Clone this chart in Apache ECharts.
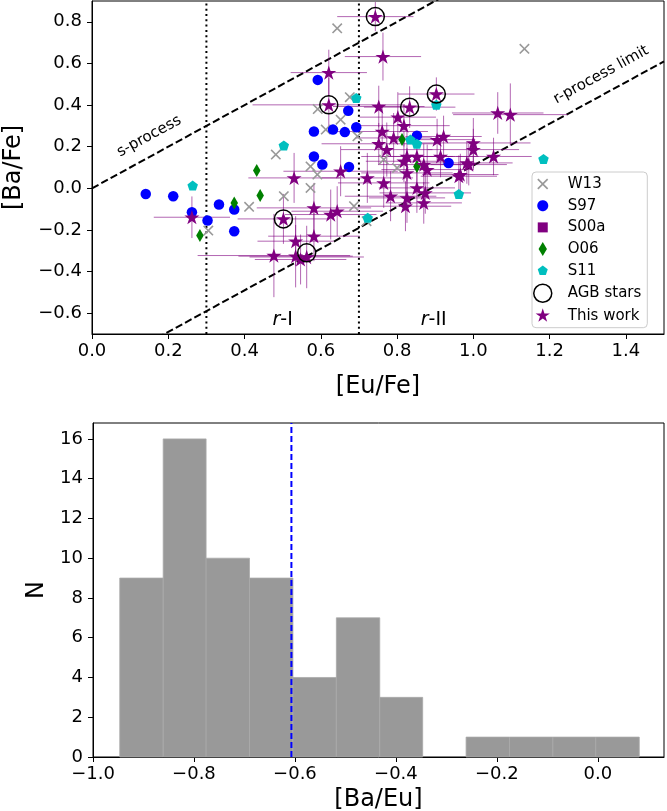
<!DOCTYPE html>
<html><head><meta charset="utf-8">
<script src="https://cdn.jsdelivr.net/npm/echarts@6/dist/echarts.min.js"></script>
<style>html,body{margin:0;padding:0;background:#fff}#c{width:667px;height:811px}</style>
</head><body><div id="c"></div>
<script>
// ---------------- DATA: top panel ([Eu/Fe], [Ba/Fe]) ----------------
const w13 = [[0.643,0.769],[1.134,0.670],[0.592,0.381],[0.676,0.438],[0.652,0.330],[0.613,0.282],[0.696,0.250],[0.482,0.162],[0.503,-0.038],[0.412,-0.089],[0.305,-0.203],[0.573,0.105],[0.591,0.066],[0.573,0.002],[0.687,-0.086],[0.765,0.138],[0.800,0.098],[0.720,-0.158]];
const s97 = [[0.141,-0.027],[0.213,-0.038],[0.262,-0.115],[0.303,-0.155],[0.333,-0.078],[0.373,-0.102],[0.373,-0.206],[0.592,0.521],[0.672,0.373],[0.582,0.273],[0.632,0.282],[0.663,0.270],[0.693,0.293],[0.852,0.253],[0.582,0.153],[0.604,0.114],[0.674,0.103],[0.935,0.122]];
const s00a = [];
const o06 = [[0.432,0.085],[0.441,-0.035],[0.373,-0.070],[0.283,-0.227],[0.813,0.234],[0.852,0.105]];
const s11 = [[0.503,0.206],[0.264,0.013],[0.693,0.434],[0.903,0.401],[0.835,0.234],[0.852,0.214],[1.184,0.141],[0.962,-0.027],[0.723,-0.142]];
const agb = [[0.743,0.825],[0.621,0.401],[0.833,0.390],[0.903,0.453],[0.502,-0.147],[0.563,-0.310]];
const twX    = [0.743,0.763,0.621,0.621,0.752,0.833,0.903,0.802,0.818,0.761,0.791,0.752,0.773,0.905,0.922,1.000,1.000,1.064,1.097,1.053,0.983,0.962,0.826,0.852,0.870,0.914,0.879,0.818,0.530,0.652,0.722,0.765,0.783,0.826,0.852,0.874,0.826,0.822,0.870,0.262,0.502,0.582,0.626,0.643,0.534,0.582,0.477,0.534,0.563,0.547,0.988,0.966];
const twY    = [0.825,0.633,0.556,0.401,0.393,0.390,0.453,0.342,0.301,0.273,0.242,0.214,0.186,0.234,0.249,0.218,0.186,0.362,0.354,0.153,0.122,0.058,0.153,0.153,0.114,0.153,0.090,0.130,0.050,0.082,0.050,0.026,-0.038,0.074,0.002,-0.022,-0.046,-0.086,-0.070,-0.139,-0.147,-0.094,-0.126,-0.110,-0.254,-0.230,-0.323,-0.326,-0.330,-0.342,0.114,0.066];
const twXerr = [0.10,0.10,0.10,0.20,0.12,0.12,0.10,0.10,0.12,0.12,0.10,0.15,0.12,0.10,0.10,0.15,0.12,0.12,0.15,0.10,0.12,0.10,0.12,0.10,0.12,0.10,0.12,0.10,0.12,0.15,0.12,0.12,0.12,0.12,0.10,0.12,0.10,0.12,0.10,0.10,0.12,0.15,0.12,0.12,0.10,0.12,0.20,0.15,0.15,0.12,0.10,0.10];
const twYerr = [0.07,0.115,0.11,0.13,0.10,0.10,0.08,0.12,0.10,0.12,0.12,0.10,0.13,0.10,0.10,0.12,0.10,0.10,0.15,0.09,0.10,0.10,0.12,0.12,0.10,0.10,0.12,0.10,0.12,0.12,0.12,0.12,0.12,0.12,0.12,0.10,0.12,0.12,0.10,0.10,0.12,0.12,0.12,0.12,0.12,0.12,0.20,0.15,0.15,0.12,0.10,0.10];
const topXRange = [0, 1.5];
const topYRange = [-0.7, 0.9];
const topXTicks = [0.0,0.2,0.4,0.6,0.8,1.0,1.2,1.4];
const topYTicks = [-0.6,-0.4,-0.2,0.0,0.2,0.4,0.6,0.8];
const sProcessOffset = 0.0;     // [Ba/Fe] = [Eu/Fe] + offset
const rProcessOffset = -0.89;   // r-process limit
const rBoundaries = [0.3, 0.7];

// ---------------- DATA: bottom panel histogram of [Ba/Eu] ----------------
const binEdges = [-0.947,-0.861,-0.776,-0.690,-0.604,-0.518,-0.432,-0.347,-0.261,-0.175,-0.089,-0.004,0.082];
const counts   = [9,16,10,9,4,7,3,0,1,1,1,1];
const medianBaEu = -0.607;
const histXRange = [-1.0, 0.131];
const histYRange = [0, 16.8];
const histXTicks = [-1.0,-0.8,-0.6,-0.4,-0.2,0.0];
const histYTicks = [0,2,4,6,8,10,12,14,16];

// ---------------- marker shapes ----------------
const FONT = "'DejaVu Sans', sans-serif";
function starPts(){const p=[];for(let k=0;k<10;k++){const a=(-90+36*k)*Math.PI/180,r=k%2?0.382:1;p.push([r*Math.cos(a),r*Math.sin(a)]);}return p;}
function pentPts(){const p=[];for(let k=0;k<5;k++){const a=(-90+72*k)*Math.PI/180;p.push([Math.cos(a),Math.sin(a)]);}return p;}
function circPts(){const p=[];for(let k=0;k<48;k++){const a=k*2*Math.PI/48;p.push([Math.cos(a),Math.sin(a)]);}return p;}
function diamPts(){return [[0,-1],[0.6,0],[0,1],[-0.6,0]];}
function sqPts(){return [[-1,-1],[1,-1],[1,1],[-1,1]];}
function xPts(){const w=0.12;const plus=[[-w,-1],[w,-1],[w,-w],[1,-w],[1,w],[w,w],[w,1],[-w,1],[-w,w],[-1,w],[-1,-w],[-w,-w]];
  const c=Math.SQRT1_2;return plus.map(([x,y])=>[c*x-c*y,c*x+c*y]);}
function poly(pts,s,cx,cy){return pts.map((p,i)=>(i?'L':'M')+(cx+p[0]*s).toFixed(3)+' '+(cy+p[1]*s).toFixed(3)).join(' ')+' Z';}
function sym(pts){return 'path://'+poly(pts,10,10,10);}
// legend icon: shape of given pixel size inside an 18x18 box
function icon(pts,px){let mx=0;pts.forEach(p=>{mx=Math.max(mx,Math.abs(p[0]),Math.abs(p[1]));});
  return 'path://M0 0 M18 18 '+poly(pts,px/2/mx,9,9);}

const PURPLE='#800080', BLUE='#0000ff', GREEN='#008000', CYAN='#00bfbf', GRAY='#999999';
const fmt = v => (v < -1e-9 ? '\u2212' : '') + Math.abs(v).toFixed(1);

const annotations = [
  {text:'s-process', x:0.15, y:0.25, offset:sProcessOffset, size:15},
  {text:'r-process limit', x:1.335, y:0.545, offset:rProcessOffset, size:15},
  {text:'{i|r}-I', x:0.50, y:-0.635, offset:null, size:19},
  {text:'{i|r}-II', x:0.896, y:-0.635, offset:null, size:19}
];

const chart = echarts.init(document.getElementById('c'), null, {renderer:'canvas'});

function axisCommon(){
  return {
    axisLine:{show:true,onZero:false,lineStyle:{color:'#000',width:1}},
    splitLine:{show:false},
    nameTextStyle:{fontFamily:FONT,fontSize:24,color:'#000'},
  };
}

const option = {
  animation:false,
  backgroundColor:'#fff',
  grid:[
    {left:92,right:3,top:1,height:333,show:true,borderColor:'#000',borderWidth:1,backgroundColor:'transparent',outerBoundsMode:'none',containLabel:false},
    {left:93,right:3,top:423,height:334,show:true,borderColor:'#000',borderWidth:1,backgroundColor:'transparent',outerBoundsMode:'none',containLabel:false}
  ],
  xAxis:[
    Object.assign(axisCommon(),{type:'value',gridIndex:0,min:topXRange[0],max:topXRange[1],name:'[Eu/Fe]',nameLocation:'middle',nameGap:41,
      axisLabel:{customValues:topXTicks,formatter:fmt,fontFamily:FONT,fontSize:18,color:'#000',margin:8},
      axisTick:{show:true,inside:false,length:5,customValues:topXTicks,lineStyle:{color:'#000',width:1}}}),
    Object.assign(axisCommon(),{type:'value',gridIndex:1,min:histXRange[0],max:histXRange[1],name:'[Ba/Eu]',nameLocation:'middle',nameGap:31,
      axisLabel:{customValues:histXTicks,formatter:fmt,fontFamily:FONT,fontSize:18,color:'#000',margin:8},
      axisTick:{show:true,inside:false,length:5,customValues:histXTicks,lineStyle:{color:'#000',width:1}}})
  ],
  yAxis:[
    Object.assign(axisCommon(),{type:'value',gridIndex:0,min:topYRange[0],max:topYRange[1],name:'[Ba/Fe]',nameLocation:'middle',nameGap:66,
      axisLabel:{customValues:topYTicks,formatter:fmt,fontFamily:FONT,fontSize:18,color:'#000',margin:10},
      axisTick:{show:true,inside:false,length:5,customValues:topYTicks,lineStyle:{color:'#000',width:1}}}),
    Object.assign(axisCommon(),{type:'value',gridIndex:1,min:histYRange[0],max:histYRange[1],name:'N',nameLocation:'middle',nameGap:33,
      axisLabel:{customValues:histYTicks,formatter:v=>String(Math.round(v)),fontFamily:FONT,fontSize:18,color:'#000',margin:10},
      axisTick:{show:true,inside:false,length:5,customValues:histYTicks,lineStyle:{color:'#000',width:1}}})
  ],
  legend:{
    orient:'vertical',left:532,top:172,itemWidth:40,itemHeight:18,itemGap:3.7,
    padding:[3,6,3,1],backgroundColor:'rgba(255,255,255,0.8)',borderColor:'#cccccc',borderWidth:1,borderRadius:4,
    selectedMode:false,
    textStyle:{fontFamily:FONT,fontSize:15,color:'#000',lineHeight:18},
    data:[
      {name:'W13',icon:icon(xPts(),11)},
      {name:'S97',icon:icon(circPts(),11)},
      {name:'S00a',icon:icon(sqPts(),10)},
      {name:'O06',icon:icon(diamPts(),14)},
      {name:'S11',icon:icon(pentPts(),10.5)},
      {name:'AGB stars',icon:'circle',itemStyle:{color:'rgba(0,0,0,0)',borderColor:'#000',borderWidth:1.5}},
      {name:'This work',icon:icon(starPts(),15)}
    ]
  },
  series:[
    {type:'line',name:'sline',xAxisIndex:0,yAxisIndex:0,silent:true,symbol:'none',clip:true,z:1,
      data:[[topXRange[0],topXRange[0]+sProcessOffset],[topXRange[1],topXRange[1]+sProcessOffset]],
      lineStyle:{color:'#000',width:2,type:[7.4,3.2]}},
    {type:'line',name:'rline',xAxisIndex:0,yAxisIndex:0,silent:true,symbol:'none',clip:true,z:1,
      data:[[topXRange[0],topXRange[0]+rProcessOffset],[topXRange[1],topXRange[1]+rProcessOffset]],
      lineStyle:{color:'#000',width:2,type:[7.4,3.2]}},
    ...rBoundaries.map(b=>({type:'line',xAxisIndex:0,yAxisIndex:0,silent:true,symbol:'none',clip:true,z:1,
      data:[[b,topYRange[0]],[b,topYRange[1]]],lineStyle:{color:'#000',width:2,type:[2,3.3]}})),
    {type:'custom',name:'errbars',xAxisIndex:0,yAxisIndex:0,silent:true,clip:true,z:2,
      data:twX.map((x,i)=>[x,twY[i],twXerr[i],twYerr[i]]),encode:{x:0,y:1},
      renderItem:function(params,api){
        const x=api.value(0),y=api.value(1),xe=api.value(2),ye=api.value(3);
        const a=api.coord([x-xe,y]),b=api.coord([x+xe,y]),c=api.coord([x,y-ye]),d=api.coord([x,y+ye]);
        const st={stroke:'rgba(128,0,128,0.6)',lineWidth:1};
        return {type:'group',children:[
          {type:'line',shape:{x1:a[0],y1:a[1],x2:b[0],y2:b[1]},style:st},
          {type:'line',shape:{x1:c[0],y1:c[1],x2:d[0],y2:d[1]},style:st}]};
      }},
    {type:'scatter',name:'W13',xAxisIndex:0,yAxisIndex:0,data:w13,symbol:sym(xPts()),symbolSize:10.5,itemStyle:{color:GRAY,opacity:1},z:3},
    {type:'scatter',name:'S97',xAxisIndex:0,yAxisIndex:0,data:s97,symbol:'circle',symbolSize:10.5,itemStyle:{color:BLUE,opacity:1},z:3},
    {type:'scatter',name:'S00a',xAxisIndex:0,yAxisIndex:0,data:s00a,symbol:'rect',symbolSize:10,itemStyle:{color:PURPLE,opacity:1},z:3},
    {type:'scatter',name:'O06',xAxisIndex:0,yAxisIndex:0,data:o06,symbol:sym(diamPts()),symbolSize:[7.5,13],itemStyle:{color:GREEN,opacity:1},z:3},
    {type:'scatter',name:'S11',xAxisIndex:0,yAxisIndex:0,data:s11,symbol:sym(pentPts()),symbolSize:10.5,symbolKeepAspect:true,itemStyle:{color:CYAN,opacity:1},z:3},
    {type:'scatter',name:'This work',xAxisIndex:0,yAxisIndex:0,data:twX.map((x,i)=>[x,twY[i]]),symbol:sym(starPts()),symbolSize:15,symbolKeepAspect:true,itemStyle:{color:PURPLE,opacity:1},z:4},
    {type:'scatter',name:'AGB stars',xAxisIndex:0,yAxisIndex:0,data:agb,symbol:'circle',symbolSize:18,itemStyle:{color:'rgba(0,0,0,0)',borderColor:'#000',borderWidth:1.5,opacity:1},z:5},
    {type:'custom',name:'annot',xAxisIndex:0,yAxisIndex:0,silent:true,z:6,clip:false,
      data:annotations.map((a,i)=>[a.x,a.y,i]),encode:{x:0,y:1},
      renderItem:function(params,api){
        const a=annotations[api.value(2)];
        const p=api.coord([a.x,a.y]);
        let rot=0;
        if(a.offset!==null){const p1=api.coord([0,a.offset]),p2=api.coord([1,1+a.offset]);rot=Math.atan2(p1[1]-p2[1],p2[0]-p1[0]);}
        return {type:'text',x:p[0],y:p[1],rotation:rot,style:{text:a.text,fontFamily:FONT,fontSize:a.size,fill:'#000',align:'center',verticalAlign:'middle',
          rich:{i:{fontStyle:'italic',fontFamily:FONT,fontSize:a.size,fill:'#000'}}}};
      }},
    {type:'custom',name:'hist',xAxisIndex:1,yAxisIndex:1,silent:true,z:2,
      data:counts.map((c,i)=>[binEdges[i],binEdges[i+1],c]),encode:{x:[0,1],y:2},
      renderItem:function(params,api){
        const c=api.value(2); if(!c) return null;
        const p0=api.coord([api.value(0),0]),p1=api.coord([api.value(1),c]);
        return {type:'rect',shape:{x:p0[0],y:p1[1],width:p1[0]-p0[0],height:p0[1]-p1[1]},style:{fill:'#999999',stroke:'#aaaaaa',lineWidth:0.8}};
      }},
    {type:'line',name:'median',xAxisIndex:1,yAxisIndex:1,silent:true,symbol:'none',z:3,clip:true,
      data:[[medianBaEu,histYRange[0]],[medianBaEu,histYRange[1]]],lineStyle:{color:BLUE,width:2,type:[6,3]}}
  ]
};
chart.setOption(option);
</script>
</body></html>
